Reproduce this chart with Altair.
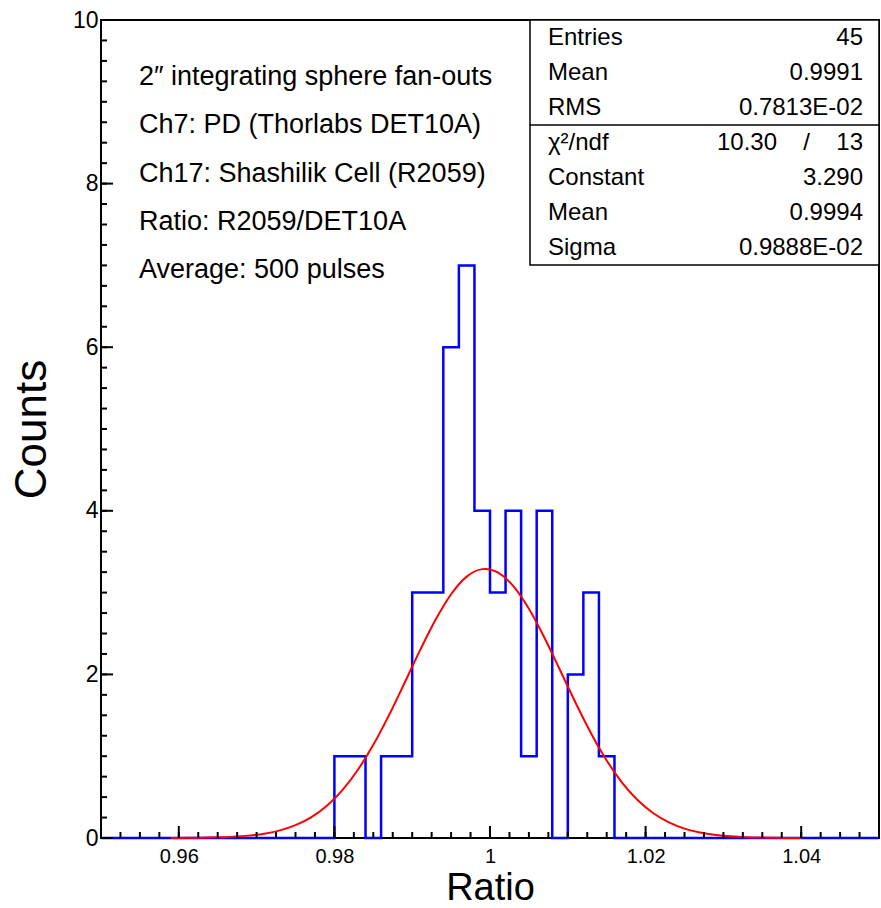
import altair as alt
import pandas as pd

# Histogram: bin lower edges (step outline) and counts
hist_edges = [0.950, 0.980, 0.982, 0.984, 0.986, 0.988, 0.990, 0.992, 0.994, 0.996,
              0.998, 1.000, 1.002, 1.004, 1.006, 1.008, 1.010, 1.012, 1.014, 1.016, 1.050]
hist_counts = [0, 1, 1, 0, 1, 1, 3, 3, 6, 7,
               4, 3, 4, 1, 4, 0, 2, 3, 1, 0, 0]

# Gaussian fit curve
fit_x = [0.959, 0.961, 0.963, 0.965, 0.967, 0.969, 0.971, 0.973, 0.975, 0.977,
         0.979, 0.981, 0.983, 0.985, 0.987, 0.989, 0.991, 0.993, 0.995, 0.997,
         0.999, 0.9994, 1.001, 1.003, 1.005, 1.007, 1.009, 1.011, 1.013, 1.015,
         1.017, 1.019, 1.021, 1.023, 1.025, 1.027, 1.029, 1.031, 1.033, 1.035,
         1.037, 1.039, 1.040]
fit_y = [0.001, 0.002, 0.004, 0.008, 0.015, 0.029, 0.053, 0.093, 0.157, 0.253,
         0.392, 0.583, 0.832, 1.139, 1.499, 1.892, 2.294, 2.668, 2.980, 3.195,
         3.287, 3.290, 3.247, 3.079, 2.802, 2.449, 2.054, 1.653, 1.278, 0.948,
         0.675, 0.461, 0.303, 0.191, 0.115, 0.067, 0.037, 0.020, 0.010, 0.005,
         0.002, 0.001, 0.001]

# Axis ticks
x_major = [0.96, 0.98, 1.00, 1.02, 1.04]
x_minor = [round(0.95 + 0.0025 * i, 4) for i in range(41)]
y_major = [0, 2, 4, 6, 8, 10]
y_minor = [round(0.25 * i, 2) for i in range(41)]

# Texts
info_lines = ["2\u2033 integrating sphere fan-outs",
              "Ch7: PD (Thorlabs DET10A)",
              "Ch17: Shashilik Cell (R2059)",
              "Ratio: R2059/DET10A",
              "Average: 500 pulses"]
stat_names = ["Entries", "Mean", "RMS", "\u03c7\u00b2/ndf", "Constant", "Mean", "Sigma"]
stat_values = ["45", "0.9991", "0.7813E-02", "13", "3.290", "0.9994", "0.9888E-02"]
chi_parts = ["10.30", "/"]

W, H = 778, 818
FONT = "Liberation Sans"

xs = alt.Scale(domain=[0.95, 1.05], nice=False, zero=False)
ys = alt.Scale(domain=[0, 10], nice=False, zero=False)

hist_df = pd.DataFrame({"ratio": hist_edges, "counts": hist_counts})
fit_df = pd.DataFrame({"ratio": fit_x, "counts": fit_y})

hist = alt.Chart(hist_df).mark_line(
    interpolate="step-after", color="#0000ff", strokeWidth=2.5
).encode(
    x=alt.X("ratio:Q", scale=xs,
            axis=alt.Axis(title="Ratio", values=x_major, format=".3~g",
                          tickSize=0, domain=False, grid=False,
                          labelFont=FONT, labelFontSize=20, labelColor="black",
                          labelPadding=8, titleFont=FONT, titleFontSize=38,
                          titleFontWeight="normal", titleColor="black",
                          titlePadding=3)),
    y=alt.Y("counts:Q", scale=ys,
            axis=alt.Axis(title="Counts", values=y_major, format="d",
                          tickSize=0, domain=False, grid=False,
                          labelFont=FONT, labelFontSize=23, labelColor="black",
                          labelPadding=3, titleFont=FONT, titleFontSize=44,
                          titleFontWeight="normal", titleColor="black",
                          titlePadding=18)),
)

fit = alt.Chart(fit_df).mark_line(
    interpolate="monotone", color="#ff0000", strokeWidth=2
).encode(x=alt.X("ratio:Q", scale=xs), y=alt.Y("counts:Q", scale=ys))

xmaj = alt.Chart(pd.DataFrame({"t": x_major})).mark_rule(color="black", strokeWidth=2).encode(
    x=alt.X("t:Q", scale=xs), y=alt.value(H), y2=alt.value(H - 12))
xmin = alt.Chart(pd.DataFrame({"t": x_minor})).mark_rule(color="black", strokeWidth=2).encode(
    x=alt.X("t:Q", scale=xs), y=alt.value(H), y2=alt.value(H - 6))
ymaj = alt.Chart(pd.DataFrame({"t": y_major})).mark_rule(color="black", strokeWidth=2).encode(
    y=alt.Y("t:Q", scale=ys), x=alt.value(0), x2=alt.value(12))
ymin = alt.Chart(pd.DataFrame({"t": y_minor})).mark_rule(color="black", strokeWidth=2).encode(
    y=alt.Y("t:Q", scale=ys), x=alt.value(0), x2=alt.value(6))

info_df = pd.DataFrame({"line": info_lines, "i": list(range(len(info_lines)))})
info = alt.Chart(info_df).transform_calculate(
    py="57 + datum.i * 48.3"
).mark_text(
    align="left", baseline="middle", font=FONT, fontSize=27, color="black"
).encode(x=alt.value(38), y=alt.Y("py:Q", scale=None), text="line:N")

box = alt.Chart(pd.DataFrame({"a": [0]})).mark_rect(
    fill="white", stroke="black", strokeWidth=1.5
).encode(x=alt.value(429), x2=alt.value(W), y=alt.value(0), y2=alt.value(245))
divider = alt.Chart(pd.DataFrame({"a": [0]})).mark_rule(color="black", strokeWidth=1.5).encode(
    x=alt.value(429), x2=alt.value(W), y=alt.value(105))

stats_df = pd.DataFrame({"name": stat_names, "val": stat_values, "i": list(range(len(stat_names)))})
stats_base = alt.Chart(stats_df).transform_calculate(
    py="datum.i < 3 ? 18 + datum.i * 35 : 123 + (datum.i - 3) * 35"
)
stat_left = stats_base.mark_text(
    align="left", baseline="middle", font=FONT, fontSize=24, color="black"
).encode(x=alt.value(447), y=alt.Y("py:Q", scale=None), text="name:N")
stat_right = stats_base.mark_text(
    align="right", baseline="middle", font=FONT, fontSize=24, color="black"
).encode(x=alt.value(762), y=alt.Y("py:Q", scale=None), text="val:N")

chi_df = pd.DataFrame({"t": chi_parts, "px": [676, 709]})
chi = alt.Chart(chi_df).mark_text(
    align="right", baseline="middle", font=FONT, fontSize=24, color="black"
).encode(x=alt.X("px:Q", scale=None), y=alt.value(123), text="t:N")

chart = alt.layer(
    hist, fit, xmin, xmaj, ymin, ymaj, info, box, divider, stat_left, stat_right, chi
).properties(
    width=W, height=H,
    autosize=alt.AutoSizeParams(type="none"),
    padding={"left": 101, "top": 20, "right": 2, "bottom": 70},
    background="white",
).configure_view(stroke="black", strokeWidth=2)

chart.save("out.html", embed_options={"renderer": "svg", "actions": False})
